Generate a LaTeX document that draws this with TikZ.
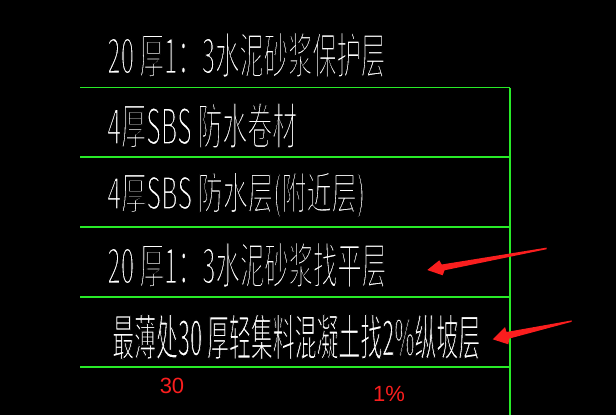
\documentclass[tikz,border=0pt]{standalone}
\usepackage{fontspec}
\newfontfamily\cjk{Noto Sans CJK SC}
\newfontfamily\redfont{Liberation Sans}
\definecolor{cadgreen}{RGB}{40,235,40}
\definecolor{cadred}{RGB}{250,30,30}
\newcommand{\thintext}[2][0.4]{\special{pdf:code 0 G 2 Tr #1 w}#2\special{pdf:code 0 Tr}}
\begin{document}
\begin{tikzpicture}[x=1pt,y=-1pt,
  rule/.style={draw=cadgreen,line width=1.4pt},
  layertext/.style={anchor=west,inner sep=0pt,text=white,font=\cjk},
  dimtext/.style={inner sep=0pt,text=cadred,font=\redfont\fontsize{22}{22}\selectfont},
  redarrow/.style={fill=cadred,draw=none}]
\fill[black] (0,0) rectangle (616,415);
\useasboundingbox (0,0) rectangle (616,415);
% frame lines
\coordinate (l1) at (80,87.5);  \coordinate (r1) at (510,87.5);
\coordinate (l2) at (80,157);   \coordinate (r2) at (510,157);
\coordinate (l3) at (80,227);   \coordinate (r3) at (510,227);
\coordinate (l4) at (80,297);   \coordinate (r4) at (510,297);
\coordinate (l5) at (80,367);   \coordinate (r5) at (510,367);
\coordinate (rb) at (510,415);
\draw[rule] (l1) -- (r1);
\draw[rule] (l2) -- (r2);
\draw[rule] (l3) -- (r3);
\draw[rule] (l4) -- (r4);
\draw[rule] (l5) -- (r5);
\draw[rule] (r1) -- (rb);
% layer texts
\node[layertext] (t1) at (107,55) {\resizebox*{278pt}{46pt}{\thintext{20 厚1：3水泥砂浆保护层}}};
\node[layertext] (t2) at (107,125.5) {\resizebox*{190pt}{46pt}{\thintext{4厚SBS 防水卷材}}};
\node[layertext] (t3) at (107,195) {\resizebox*{258pt}{46pt}{\thintext{4厚SBS 防水层(附近层)}}};
\node[layertext] (t4) at (107,265) {\resizebox*{279pt}{46pt}{\thintext{20 厚1：3水泥砂浆找平层}}};
\node[layertext] (t5) at (112,337) {\resizebox*{368pt}{46pt}{\thintext[0.27]{最薄处30 厚轻集料混凝土找2\%纵坡层}}};
% red dimensions
\node[dimtext] (d1) at (172,386) {30};
\node[dimtext] (d2) at (389,393.5) {1\%};
% red arrows
\coordinate (a1tail) at (546.7,247.6);
\coordinate (a1tip) at (427.3,270);
\fill[redarrow] (a1tail) -- (441.7,264.5) -- (439.3,260.3) -- (a1tip) -- (442.7,275.3) -- (444.5,270.3) -- (546.7,249.2) -- cycle;
\coordinate (a2tail) at (571.7,320.4);
\coordinate (a2tip) at (492.7,339.3);
\fill[redarrow] (a2tail) -- (506.5,332) -- (505,327) -- (a2tip) -- (508.3,344.3) -- (509.5,338.5) -- (571.7,321.8) -- cycle;
\end{tikzpicture}
\end{document}
